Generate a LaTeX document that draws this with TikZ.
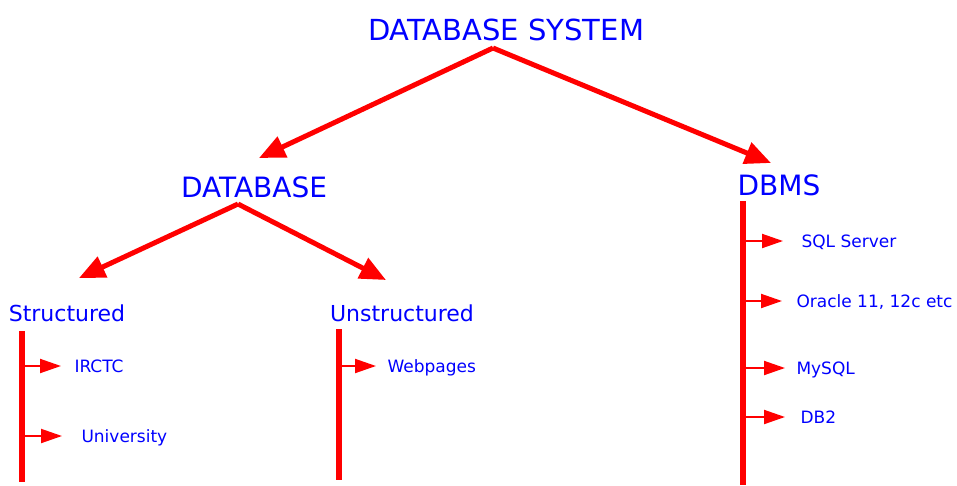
\documentclass[tikz,border=0pt]{standalone}
\usepackage{fontspec}
\setmainfont{DejaVu Sans}
\usetikzlibrary{arrows.meta,calc,positioning}

\begin{document}
\begin{tikzpicture}[x=1pt,y=-1pt,red,line width=5pt,-{Triangle[length=26pt,width=22pt]}]
\tikzstyle{head}=[text=blue,inner sep=0pt,text depth=0pt]
\tikzstyle{big}=[head,text height=21.1pt,font=\fontsize{29}{32}\selectfont]
\tikzstyle{mid}=[head,text height=20.4pt,font=\fontsize{28}{32}\selectfont]
\tikzstyle{sub}=[head,text height=16pt,font=\fontsize{22}{26}\selectfont]
\tikzstyle{leaf}=[head,anchor=west,text height=12.4pt,font=\fontsize{17}{20}\selectfont]
\tikzstyle{bar}=[-,line width=6.5pt]
\tikzstyle{tip}=[line width=2pt,-{Triangle[length=21pt,width=14pt]}]
\useasboundingbox (0,0) rectangle (957,485);
\node[big] (t) at (506,30) {DATABASE SYSTEM};
\node[mid] (db) at (254,187) {DATABASE};
\node[mid] (dbms) at (779,185) {DBMS};
\node[sub] (st) at (67,313) {Structured};
\node[sub] (un) at (402,313) {Unstructured};
\node[leaf] (irctc) at (72,366) {IRCTC};
\node[leaf] (uni) at (79,436) {University};
\node[leaf] (web) at (385,366) {Webpages};
\node[leaf] (sql) at (799,241) {SQL Server};
\node[leaf] (ora) at (794,301) {Oracle 11, 12c etc};
\node[leaf] (my) at (794,368) {MySQL};
\node[leaf] (db2) at (798,417) {DB2};
\coordinate (sb) at (22,331);
\coordinate (se) at (22,482);
\coordinate (ub) at (339,329);
\coordinate (ue) at (339,480);
\coordinate (mb) at (743,201);
\coordinate (me) at (743,485);
\draw ($(t)+(-13,18)$) -- ($(db)+(5,-29)$);
\draw ($(t)+(-13,18)$) -- ($(dbms)+(-8,-22)$);
\draw ($(db)+(-16,17)$) -- ($(st)+(12,-35)$);
\draw ($(db)+(-16,17)$) -- ($(un)+(-16,-33)$);
\draw[bar] (sb) -- (se);
\draw[bar] (ub) -- (ue);
\draw[bar] (mb) -- (me);
\draw[tip,shorten >=11pt] (irctc -| sb) -- (irctc);
\draw[tip,shorten >=17pt] (uni -| sb) -- (uni);
\draw[tip,shorten >=9pt] (web -| ub) -- (web);
\draw[tip,shorten >=16pt] (sql -| mb) -- (sql);
\draw[tip,shorten >=12pt] (ora -| mb) -- (ora);
\draw[tip,shorten >=9pt] (my -| mb) -- (my);
\draw[tip,shorten >=13pt] (db2 -| mb) -- (db2);
\end{tikzpicture}
\end{document}
